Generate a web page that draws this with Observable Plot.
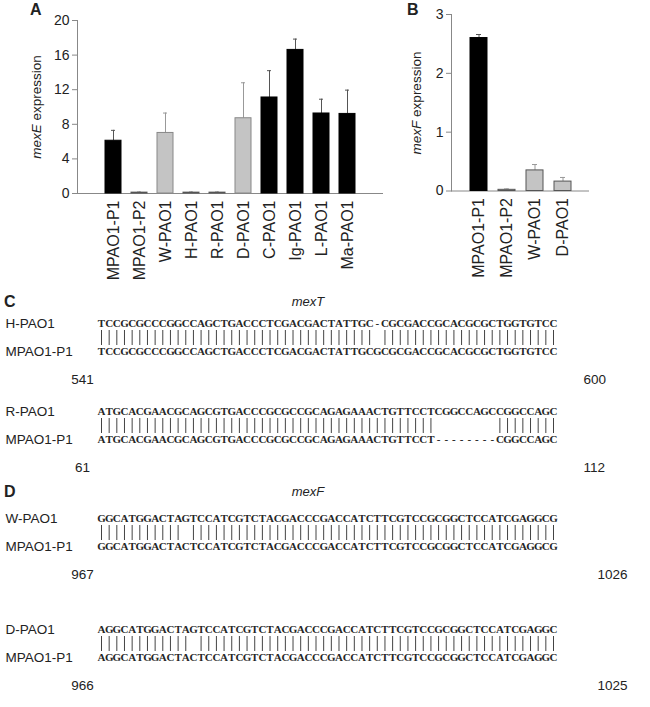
<!DOCTYPE html>
<html><head><meta charset="utf-8">
<script src="https://cdn.jsdelivr.net/npm/d3@7"></script>
<script src="https://cdn.jsdelivr.net/npm/@observablehq/plot@0.6"></script>
<style>
body{margin:0;background:#fff;}
#root{position:relative;width:650px;height:707px;overflow:hidden;font-family:"Liberation Sans",Arial,sans-serif;color:#222;}
.abs{position:absolute;line-height:1;white-space:nowrap;}
.letter{font-weight:bold;font-size:16px;font-family:"Liberation Sans",Arial,sans-serif;}
.gene{font-style:italic;font-size:13px;transform:translate(-50%,-50%);font-family:"Liberation Sans",Arial,sans-serif;}
</style></head>
<body><div id="root"></div>
<script>
// ---------- data ----------
const strainsA = ["MPAO1-P1","MPAO1-P2","W-PAO1","H-PAO1","R-PAO1","D-PAO1","C-PAO1","Ig-PAO1","L-PAO1","Ma-PAO1"];
const mexE     = [6.1, 0.1, 7.0, 0.1, 0.1, 8.7, 11.1, 16.6, 9.25, 9.2];
const mexEerr  = [1.2, 0.08, 2.3, 0.08, 0.08, 4.1, 3.1, 1.25, 1.65, 2.75];
const groupA   = ["black","gray","gray","gray","gray","gray","black","black","black","black"];
const ticksA   = [0,4,8,12,16,20];

const strainsB = ["MPAO1-P1","MPAO1-P2","W-PAO1","D-PAO1"];
const mexF     = [2.6, 0.02, 0.35, 0.16];
const mexFerr  = [0.06, 0.015, 0.1, 0.07];
const groupB   = ["black","gray","gray","gray"];
const ticksB   = [0,1,2,3];

const panelLetters = ["C","D"];
const panelGenes   = ["mexT","mexF"];
const queryNames = ["H-PAO1","R-PAO1","W-PAO1","D-PAO1"];
const querySeqs = [
  "TCCGCGCCCGGCCAGCTGACCCTCGACGACTATTGC-CGCGACCGCACGCGCTGGTGTCC",
  "ATGCACGAACGCAGCGTGACCCGCGCCGCAGAGAAACTGTTCCTCGGCCAGCCGGCCAGC",
  "GGCATGGACTAGTCCATCGTCTACGACCCGACCATCTTCGTCCGCGGCTCCATCGAGGCG",
  "AGGCATGGACTAGTCCATCGTCTACGACCCGACCATCTTCGTCCGCGGCTCCATCGAGGC"
];
const refName = "MPAO1-P1";
const refSeqs = [
  "TCCGCGCCCGGCCAGCTGACCCTCGACGACTATTGCGCGCGACCGCACGCGCTGGTGTCC",
  "ATGCACGAACGCAGCGTGACCCGCGCCGCAGAGAAACTGTTCCT--------CGGCCAGC",
  "GGCATGGACTACTCCATCGTCTACGACCCGACCATCTTCGTCCGCGGCTCCATCGAGGCG",
  "AGGCATGGACTACTCCATCGTCTACGACCCGACCATCTTCGTCCGCGGCTCCATCGAGGC"
];
const startPos = ["541", "61", "967", "966"];
const endPos   = ["600", "112", "1026", "1025"];

// ---------- layout ----------
const root = document.getElementById("root");
function place(node, left, top, cls){
  const d = document.createElement("div");
  d.className = "abs" + (cls ? " " + cls : "");
  d.style.left = left + "px"; d.style.top = top + "px";
  if (typeof node === "string") d.textContent = node; else d.appendChild(node);
  root.appendChild(d); return d;
}
const FONT = '"Liberation Sans", Arial, sans-serif';

function barPanel({names, values, errs, groups, ticks, width, height, ml, mr, mt, mb, inL, inR, padding, gene, labelX, labelY}){
  const data = names.map((s,i)=>({strain:s, value:values[i], hi:values[i]+errs[i], group:groups[i]}));
  const fillC = d => d.group === "black" ? "#000" : "#c4c4c4";
  const strokeC = d => d.group === "black" ? "#000" : (d.value < 0.5*ticks[1] ? "#555" : "#888");
  const errC = d => d.group === "black" ? "#555" : "#999";
  const svg = Plot.plot({
    width, height, marginLeft: ml, marginRight: mr, marginTop: mt, marginBottom: mb,
    style: {fontFamily: FONT, color: "#222", background: "transparent", overflow: "visible"},
    x: {domain: names, padding, insetLeft: inL, insetRight: inR, label: null, axis: null},
    y: {domain: [ticks[0], ticks[ticks.length-1]], label: null, axis: null},
    color: {type: "identity"},
    marks: [
      Plot.axisY({ticks, tickFormat: d => String(d), tickSize: 5, tickPadding: 3, fontSize: 14, fontFamily: FONT, stroke: "#888", label: null}),
      Plot.axisX({tickRotate: -90, tickSize: 0, tickPadding: 7, fontSize: 16, fontFamily: FONT, label: null}),
      Plot.frame({anchor: "left", stroke: "#888"}),
      Plot.ruleY([ticks[0]], {stroke: "#888"}),
      Plot.ruleX(data, {x: "strain", y1: "value", y2: "hi", stroke: errC}),
      Plot.tickY(data, {x: "strain", y: "hi", stroke: errC, insetLeft: 6, insetRight: 6}),
      Plot.barY(data, {x: "strain", y: "value", fill: fillC, stroke: strokeC, strokeWidth: 1})
    ]
  });
  const t = d3.select(svg).append("text")
    .attr("transform", `translate(${labelX},${labelY}) rotate(-90)`)
    .attr("text-anchor", "middle").attr("dominant-baseline", "middle")
    .attr("font-family", FONT).attr("font-size", 13.5).attr("fill", "#222");
  t.append("tspan").attr("font-style", "italic").text(gene);
  t.append("tspan").text(" expression");
  return svg;
}

place(barPanel({names: strainsA, values: mexE, errs: mexEerr, groups: groupA, ticks: ticksA,
  width: 390, height: 290, ml: 77, mr: 7, mt: 20, mb: 97, inL: 14, inR: 14, padding: 0.4,
  gene: "mexE", labelX: 37, labelY: 107}), 0, 0);
place(barPanel({names: strainsB, values: mexF, errs: mexFerr, groups: groupB, ticks: ticksB,
  width: 260, height: 290, ml: 61, mr: 61, mt: 14, mb: 99.5, inL: 7, inR: 6, padding: 0.39,
  gene: "mexF", labelX: 27, labelY: 103}), 390, 0);

place("A", 30, 2, "letter");
place("B", 407, 2, "letter");

// alignment panels
const titleCenters = [302, 492];
const blockTops = [322, 410, 517, 628];   // centre of first sequence row
const BAND = 14.5;
panelLetters.forEach((L, p) => {
  place(L, 4, titleCenters[p] - 8, "letter");
  place(panelGenes[p], 308, titleCenters[p] - 1, "gene");
});

queryNames.forEach((qn, k) => {
  const q = querySeqs[k], r = refSeqs[k];
  const chars = [];
  for (let i = 0; i < q.length; i++) {
    chars.push({row: "q", i: i + 1, ch: q[i]});
    chars.push({row: "r", i: i + 1, ch: r[i]});
  }
  const matches = [];
  for (let i = 0; i < q.length; i++) if (q[i] === r[i] && q[i] !== "-") matches.push({i: i + 1});
  const endLabel = endPos[k];
  const svg = Plot.plot({
    width: 650, height: 5 * BAND, marginLeft: 101, marginRight: 97, marginTop: 0, marginBottom: 0,
    style: {fontFamily: FONT, color: "#222", background: "transparent", overflow: "visible"},
    x: {domain: [1, q.length], axis: null},
    y: {type: "band", domain: ["q", "m", "r", "gap", "n"], padding: 0, axis: null},
    marks: [
      Plot.tickX(matches, {x: "i", y: () => "m", stroke: "#444", strokeWidth: 1, insetTop: 0, insetBottom: -1}),
      Plot.text(chars, {x: "i", y: "row", text: "ch", fontFamily: "Liberation Serif", fontWeight: "bold", fontSize: 11, fill: "#262626"}),
      Plot.text([qn], {frameAnchor: "left", y: () => "q", dx: -96, textAnchor: "start", fontSize: 13.5, fontFamily: FONT}),
      Plot.text([refName], {frameAnchor: "left", y: () => "r", dx: -96, textAnchor: "start", fontSize: 13.5, fontFamily: FONT}),
      Plot.text([startPos[k]], {x: () => 1, y: () => "n", dx: -19, textAnchor: "middle", fontSize: 13.5, fontFamily: FONT}),
      Plot.text([endLabel], {x: () => q.length, y: () => "n", dx: endLabel.length > 3 ? 44 : 30, textAnchor: "start", fontSize: 13.5, fontFamily: FONT})
    ]
  });
  place(svg, 0, blockTops[k] - BAND / 2);
});
</script>
</body></html>
